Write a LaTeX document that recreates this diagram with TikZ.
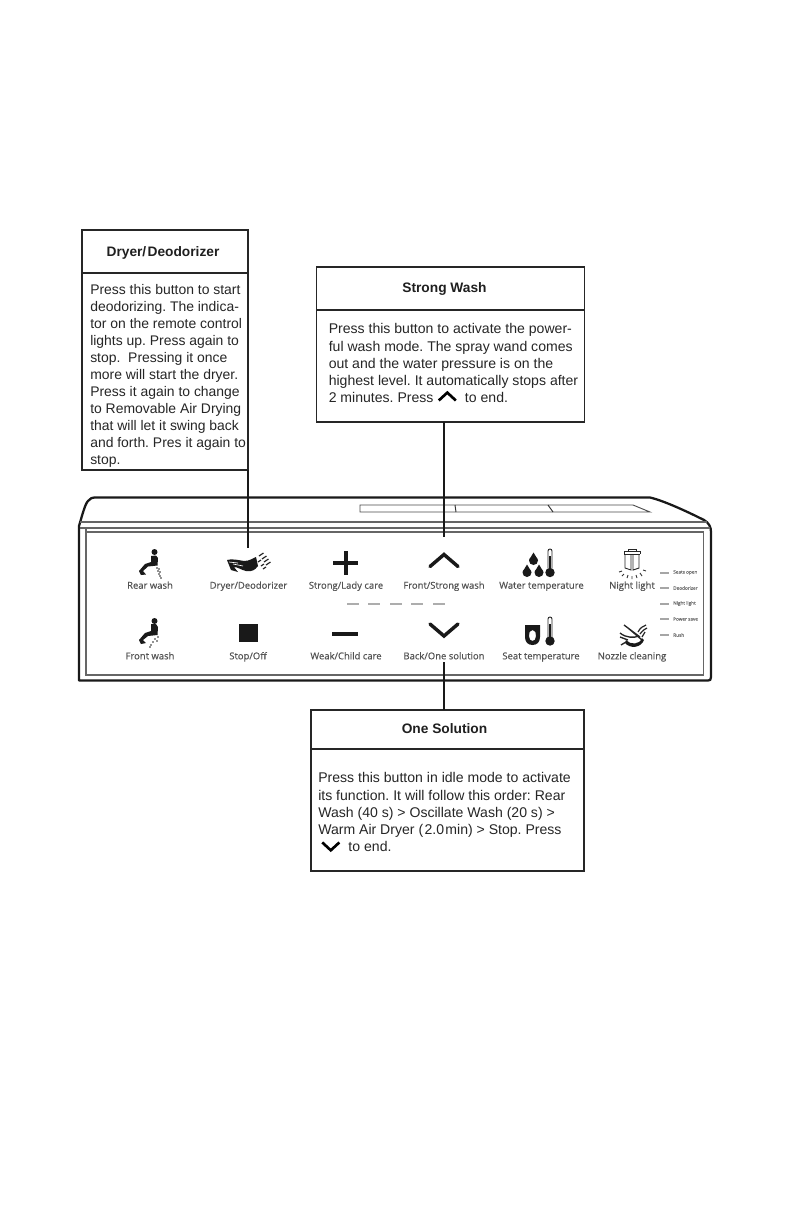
\documentclass[tikz,border=0pt]{standalone}
\usepackage{fontspec}
\setmainfont{Liberation Sans}
\newfontfamily\labelfont[FakeBold=0.35]{Open Sans}
\newcommand{\inchevup}{\tikz[baseline=0pt,x=1pt,y=1pt,line width=2pt,line join=miter]\draw[black] (0,1.5)--(6.4,7.4)--(12.8,1.5);}
\newcommand{\inchevdown}{\tikz[baseline=0pt,x=1pt,y=1pt,line width=2pt,line join=miter]\draw[black] (0,6.8)--(6.4,0.9)--(12.8,6.8);}
\tikzset{
  x=0.75pt,y=-0.75pt,
  boxrect/.style={draw=black!85,line width=0.85pt,fill=white,anchor=north west,inner sep=0pt,outer sep=0pt},
  headtext/.style={font=\fontsize{10.3pt}{12pt}\selectfont\bfseries,text=black!88,inner sep=0pt,anchor=center},
  bodytext/.style={font=\fontsize{10.55pt}{12.85pt}\selectfont\frenchspacing,text=black!85,align=left,inner sep=0pt,anchor=north west},
  dryerbodytext/.style={bodytext,font=\fontsize{10.45pt}{12.72pt}\selectfont\frenchspacing},
  keylabel/.style={font=\fontsize{7.1pt}{8pt}\labelfont,text=black!68,inner sep=0pt,anchor=base},
  ledtext/.style={font=\fontsize{3.5pt}{4pt}\labelfont,text=black!55,inner sep=0pt,anchor=west},
  leader/.style={draw=black!90,line width=0.8pt},
  shell/.style={draw=black!90,line width=1.7pt,line join=round},
  thinline/.style={draw=black!60,line width=0.8pt},
  led/.style={draw=black!35,line width=1.5pt},
  midled/.style={draw=black!32,line width=2.1pt},
  chev/.style={draw=black!90,line width=2.6pt,line cap=round,line join=miter},
  ic/.style={fill=black!90,draw=none},
  icl/.style={draw=black!85,line width=0.7pt}
}
\begin{document}
\begin{tikzpicture}
\useasboundingbox (0,0) rectangle (793,1225);
\fill[white] (0,0) rectangle (793,1225);

% ---- panel body
\draw[shell] (79,680.5) -- (79,526) .. controls (82,516) and (85,504) .. (88,501)
  .. controls (90,498) and (92,497.5) .. (97,497.5) -- (650,497.5)
  .. controls (665,501) and (690,513) .. (704,520) .. controls (709,523) and (711,527) .. (711,532)
  -- (711,677) .. controls (711,680) and (710,680.5) .. (708,680.5) -- cycle;
\draw[thinline] (80,522) -- (707,522);
\draw[thinline] (80,528) -- (710,528);
\draw[thinline] (86,532) rectangle (703.5,675);
\draw[thinline] (86,528) -- (86,532);
\draw[draw=black!70,line width=0.7pt] (360,505) -- (633,505) -- (650,512) -- (360,512) -- cycle;
\draw[draw=black!80,line width=0.7pt] (455,505) -- (456,512);
\draw[draw=black!80,line width=0.7pt] (548,505) -- (553,512);

% ---- key labels
\node[keylabel] (l1) at (150,588.7) {Rear wash};
\node[keylabel] (l2) at (248.5,588.7) {Dryer/Deodorizer};
\node[keylabel] (l3) at (346,588.7) {Strong/Lady care};
\node[keylabel] (l4) at (444,588.7) {Front/Strong wash};
\node[keylabel] (l5) at (541.5,588.7) {Water temperature};
\node[keylabel] (l6) at (632,588.7) {Night light};
\node[keylabel] (l7) at (150,659.3) {Front wash};
\node[keylabel] (l8) at (248,659.3) {Stop/Off};
\node[keylabel] (l9) at (346,659.3) {Weak/Child care};
\node[keylabel] (l10) at (444,659.3) {Back/One solution};
\node[keylabel] (l11) at (541,659.3) {Seat temperature};
\node[keylabel] (l12) at (632,659.3) {Nozzle cleaning};

% ---- centre LEDs
\foreach \a in {347,368,390,411,433} \draw[midled] (\a,604) -- ++(12,0);

% ---- legend LEDs
\foreach \yy/\tt in {572.5/Seats open,588/Deodorizer,603.5/Night light,619/Power save,635/Rush}{
  \draw[led] (660,\yy) -- (669,\yy);
  \node[ledtext] at (673,\yy) {\tt};
}

% ---- rear wash icon
\fill[ic] (154.5,552) circle (3);
\fill[ic] (151,556) -- (156,555.5) -- (158,558) -- (157.5,565.5) -- (148,566.5) -- (143,571)
  -- (146,574.5) -- (141,575) -- (139,571) -- (145,564) -- (151,562) -- cycle;
\foreach \p/\q in {157/568,159/569,158/571,160/572,159/574,160/576,161/578}
  \fill[black!85] (\p,\q) circle (0.8);
% ---- front wash icon
\fill[ic] (154.5,621) circle (3);
\fill[ic] (151,624) -- (156,624) -- (158,627) -- (157.5,635) -- (148,636) -- (143,640)
  -- (146,643) -- (141,644) -- (139,640) -- (145,633) -- (151,631) -- cycle;
\foreach \p/\q in {158/637,155/639,157/641,153/642,151/645,150/647}
  \fill[black!85] (\p,\q) circle (0.8);

% ---- dryer icon
\fill[ic] (227,560) .. controls (232,558.5) and (238,560) .. (244,561)
  .. controls (250,561) and (253,558) .. (256,557) -- (258,566) .. controls (255,570) and (252,572) .. (246,571)
  .. controls (241,570) and (238,567) .. (234,567) -- (238,572) -- (231,570) -- (229,565) -- cycle;
\draw[draw=white,line width=0.5pt] (233,564) -- (243,566) (229,562) -- (238,563);
\foreach \p/\q in {259/556,262/559,264/562,266/565}{
  \draw[draw=black!85,line width=0.9pt] (\p,\q) -- ++(4.5,-3);
}
\draw[draw=black!85,line width=0.9pt] (258,562) -- ++(3,-2) (261,566) -- ++(3,-2) (263,569) -- ++(3,-2);

% ---- plus, minus, stop
\draw[draw=black!90,line width=3pt] (333,563) -- (358,563) (345.5,551) -- (345.5,575);
\draw[draw=black!90,line width=3.6pt] (332,634) -- (358,634);
\fill[black!90] (239,624) rectangle (258,642);

% ---- chevrons
\coordinate (upbtn) at (444,537);
\coordinate (dryertip) at (248,548);
\coordinate (downbtn) at (444,662);
\draw[chev] (430,566.5) -- (444,554.5) -- (458,566.5);
\draw[chev] (430,624) -- (444,636) -- (458,624);

% ---- water temperature icon
\foreach \p/\q in {533.5/559,527/571,539/571}
  \fill[ic] (\p,\q-6.5) .. controls (\p+1,\q-3) and (\p+4.5,\q-1) .. (\p+4.5,\q+1.5)
     arc (0:180:4.5) .. controls (\p-4.5,\q-1) and (\p-1,\q-3) .. (\p,\q-6.5) -- cycle;
\draw[icl] (548,568) -- (548,551) arc (180:360:2) -- (552,568);
\fill[ic] (550,572.5) circle (4.7);
\fill[ic] (549,556) rectangle (551,570);
% ---- seat temperature icon
\fill[ic,even odd rule] (525,625) -- (540,625) -- (540,637) .. controls (540,642) and (537,645) .. (532.5,645)
  .. controls (528,645) and (525,642) .. (525,637) -- cycle
  (532.5,630) .. controls (529.5,630) and (529,633) .. (529,636) .. controls (529,639) and (530.5,641) .. (532.5,641)
  .. controls (534.5,641) and (536,639) .. (536,636) .. controls (536,633) and (535.5,630) .. (532.5,630) -- cycle;
\draw[icl] (548,637) -- (548,619) arc (180:360:2) -- (552,637);
\fill[ic] (550,641) circle (4.7);
\fill[ic] (549,624) rectangle (551,640);

% ---- night light icon
\draw[icl] (624,551) -- (640,551) (624,554) -- (640,554) (624,551) -- (624,554) (640,551) -- (640,554)
  (628,551) -- (628,549) -- (636,549) -- (636,551);
\draw[icl] (625,554) -- (625,568) -- (631,570) -- (631,554);
\draw[icl] (633,554) -- (633,570) -- (639,568) -- (639,554);
\draw[draw=black!80,line width=0.7pt] (619,572) -- (622,571) (622,576) -- (624,574) (627,578) -- (628,575)
  (632,579) -- (632,576) (637,578) -- (636,575) (642,576) -- (640,573) (646,571) -- (643,570);

% ---- nozzle cleaning icon
\draw[draw=black!85,line width=1pt] (624,625) -- (640,637) (628,628) -- (642,640);
\draw[draw=black!85,line width=0.9pt] (638,632) .. controls (640,628) and (643,626) .. (646,625)
  (640,634) .. controls (643,630) and (645,629) .. (647,628) (642,637) -- (645,632);
\fill[ic,even odd rule] (626,640) .. controls (630,645) and (640,645) .. (642,638) -- (644,640)
  .. controls (641,648) and (630,649) .. (625,643) -- cycle;
\draw[draw=black!85,line width=1pt] (620,633) .. controls (626,638) and (634,638) .. (639,636)
  (620,637) -- (628,640) (621,645) -- (626,642);

% ---- callout boxes
\node[boxrect,minimum width=124.5pt,minimum height=32.25pt] (dryerhead) at (82,230) {};
\node[boxrect,minimum width=124.5pt,minimum height=147.75pt] (dryerbody) at (82,273) {};
\node[headtext] (dryertitle) at (163,253) {Dryer/\kern1pt Deodorizer};
\node[dryerbodytext] (dryertext) at (90,284.5) {Press this button to start\\deodorizing. The indica-\\tor on the remote control\\lights up. Press again to\\stop.\ \ Pressing it once\\more will start the dryer.\\Press it again to change\\to Removable Air Drying\\that will let it swing back\\and forth. Pres it again to\\stop.};

\node[boxrect,minimum width=201pt,minimum height=32.25pt] (stronghead) at (316.5,267) {};
\node[boxrect,minimum width=201pt,minimum height=84pt] (strongbody) at (316.5,310) {};
\node[headtext] (strongtitle) at (444.5,289) {Strong Wash};
\node[bodytext] (strongtext) at (328.5,323.5) {Press this button to activate the power-\\ful wash mode. The spray wand comes\\out and the water pressure is on the\\highest level. It automatically stops after\\2 minutes. Press \inchevup\ \ to end.};

\node[boxrect,minimum width=204.75pt,minimum height=29.25pt] (onehead) at (311,710) {};
\node[boxrect,minimum width=204.75pt,minimum height=91.5pt] (onebody) at (311,749) {};
\node[headtext] (onetitle) at (444.5,729) {One Solution};
\node[bodytext] (onetext) at (318,772.5) {Press this button in idle mode to activate\\its function. It will follow this order: Rear\\Wash (40 s) > Oscillate Wash (20 s) >\\Warm Air Dryer (\kern1pt 2.0\kern1pt min) > Stop. Press\\\hspace*{2pt}\inchevdown\ \ to end.};

% ---- connectors
\draw[leader] (dryerbody.south east) -- (dryertip);
\draw[leader] (strongbody.south -| upbtn) -- (upbtn);
\draw[leader] (downbtn) -- (onehead.north -| downbtn);
\end{tikzpicture}
\end{document}
